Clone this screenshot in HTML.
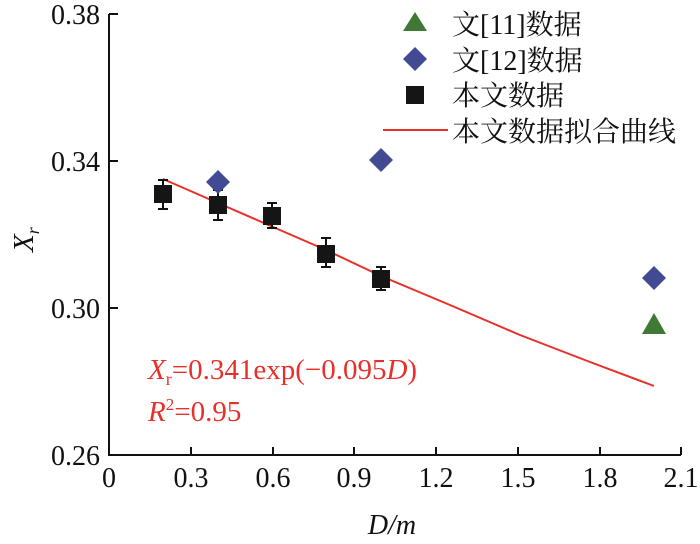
<!DOCTYPE html>
<html><head><meta charset="utf-8"><style>body{margin:0;background:#fff}svg{display:block}</style></head><body>
<svg width="700" height="544" xmlns="http://www.w3.org/2000/svg" font-family="Liberation Serif, serif">
<g stroke="#111" stroke-width="2" fill="none">
<path d="M109 14 V455 H681"/>
<path d="M109 14 h9 M109 161 h9 M109 308 h9"/>
<path d="M191 455 v-8 M273 455 v-8 M354 455 v-8 M436 455 v-8 M518 455 v-8 M600 455 v-8 M681 455 v-8"/>
</g>
<g font-size="28" fill="#111" text-anchor="end">
<text x="100" y="24">0.38</text><text x="100" y="171">0.34</text><text x="100" y="318">0.30</text><text x="100" y="465">0.26</text>
</g>
<g font-size="28" fill="#111" text-anchor="middle">
<text x="109" y="487">0</text><text x="191" y="487">0.3</text><text x="273" y="487">0.6</text><text x="354" y="487">0.9</text><text x="436" y="487">1.2</text><text x="518" y="487">1.5</text><text x="600" y="487">1.8</text><text x="681" y="487">2.1</text>
<text x="392" y="534" font-style="italic">D/m</text>
</g>
<text transform="translate(33,252) rotate(-90)" font-size="29" font-style="italic" fill="#111">X<tspan font-size="18" dy="6">r</tspan></text>
<polyline points="163,179 218,203 273,227 326,250 381,276 450,305 520,335 590,362 654,386" fill="none" stroke="#e8302a" stroke-width="2"/>
<g stroke="#111" stroke-width="2">
<path d="M163 180 v30 M158 180 h10 M158 209 h10"/>
<path d="M218 190 v30 M213 190 h10 M213 220 h10"/>
<path d="M272 203 v25 M267 203 h10 M267 228 h10"/>
<path d="M326 238 v29 M321 238 h10 M321 267 h10"/>
<path d="M381 267 v23 M376 267 h10 M376 290 h10"/>
</g>
<g fill="#151515">
<rect x="154" y="185" width="18" height="18"/><rect x="209" y="196" width="18" height="18"/><rect x="263" y="207" width="18" height="18"/><rect x="317" y="245" width="18" height="18"/><rect x="372" y="270" width="18" height="18"/>
<rect x="406" y="86" width="18" height="18"/>
</g>
<g fill="#414a92">
<path d="M218 170 l12 12 -12 12 -12 -12z"/><path d="M381 148 l12 12 -12 12 -12 -12z"/><path d="M654 266 l12 12 -12 12 -12 -12z"/>
<path d="M415 47 l12 12 -12 12 -12 -12z"/>
</g>
<g fill="#3f7a35">
<path d="M654 313 l12 21 h-24z"/><path d="M415 12 l12 19 h-24z"/>
</g>
<path d="M383 130 h65" stroke="#e8302a" stroke-width="2"/>
<g font-family="Liberation Serif, 'Noto Serif CJK SC', serif" font-size="28" fill="#111">
<text x="452" y="34">文[11]数据</text><text x="452" y="70">文[12]数据</text><text x="452" y="105">本文数据</text><text x="452" y="141">本文数据拟合曲线</text>
</g>
<g fill="#e8302a" font-size="29">
<text x="148" y="379"><tspan font-style="italic">X</tspan><tspan font-size="18" dy="6">r</tspan><tspan dy="-6">=0.341exp(−0.095</tspan><tspan font-style="italic">D</tspan>)</text>
<text x="148" y="421"><tspan font-style="italic">R</tspan><tspan font-size="17" dy="-11">2</tspan><tspan dy="11">=0.95</tspan></text>
</g>
</svg>
</body></html>
